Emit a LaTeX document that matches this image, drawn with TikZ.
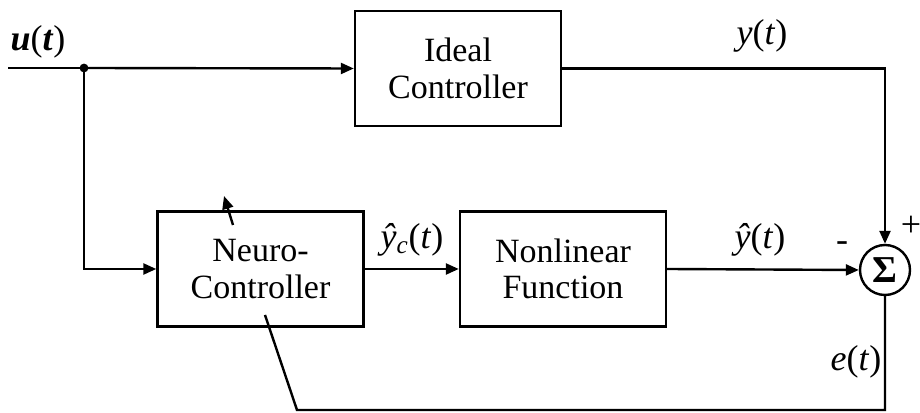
\documentclass[tikz,border=0pt]{standalone}
\usepackage{fontspec}
\setmainfont{Liberation Serif}
\usetikzlibrary{arrows.meta}
\tikzset{
  blk/.style={draw, line width=1.2bp, minimum width=103bp, minimum height=57.5bp,
    align=center, inner sep=0pt, font=\fontsize{17bp}{18.2bp}\selectfont},
  sumnode/.style={draw, circle, line width=1.2bp, minimum size=25bp, inner sep=0pt,
    font=\fontsize{19bp}{19bp}\selectfont\bfseries},
  wire/.style={line width=1.2bp},
  flow/.style={wire, -{Triangle[length=6.5bp,width=5.5bp]}},
  lbl/.style={inner sep=0pt, font=\fontsize{18bp}{19bp}\selectfont},
}
\newcommand{\vi}[1]{\textit{#1}}
\begin{document}
\begin{tikzpicture}[x=0.5bp, y=-0.5bp]
\useasboundingbox (0,0) rectangle (920,413);

% blocks
\node[blk] (ideal)  at (458,68.5) {Ideal\\Controller};
\node[blk] (neuro)  at (260.5,269) {Neuro-\\Controller};
\node[blk] (nonlin) at (563,269) {Nonlinear\\Function};
\node[sumnode] (sum) at (885,270) {Σ};

% input and branch point
\coordinate (in) at (8,68);
\coordinate (jn) at (84,68);
\fill (jn) circle (2.2bp);
\draw[wire] (in) -- (jn);
\draw[flow] (jn) -- (ideal.west);
\draw[flow] (jn) |- (neuro.west);

% forward path
\draw[flow] (neuro.east) -- (nonlin.west);
\draw[flow] (nonlin.east) -- (sum.west);
\draw[flow] (ideal.east) -| (sum.north);

% error feedback with adaptation arrow through the neuro-controller
\coordinate (ecorner) at (sum.south |- 0,410);
\coordinate (efoot) at (297,410);
\coordinate (einside) at (265,315);
\coordinate (atail) at (233,225);
\coordinate (atip) at (224,196);
\draw[wire] (sum.south) -- (ecorner) -- (efoot) -- (einside);
\draw[flow] (atail) -- (atip);

% signal labels
\node[lbl] (lu)  at (38,42)  {\textbf{\vi{u}}(\textbf{\vi{t}})};
\node[lbl] (ly)  at (762,36) {\vi{y}(\vi{t})};
\node[lbl] (lyc) at (412,240) {\vi{ŷ}\textsubscript{\vi{c}}(\vi{t})};
\node[lbl] (lyh) at (760,240) {\vi{ŷ}(\vi{t})};
\node[lbl] (le)  at (856,362) {\vi{e}(\vi{t})};
\node[lbl] (lm)  at (842,247) {-};
\node[lbl] (lp)  at (911,226) {+};
\end{tikzpicture}
\end{document}
